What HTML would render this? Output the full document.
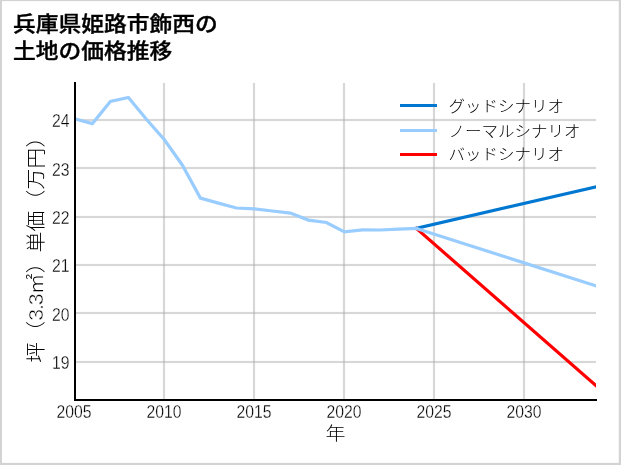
<!DOCTYPE html>
<html lang="ja">
<head>
<meta charset="utf-8">
<title>兵庫県姫路市飾西の土地の価格推移</title>
<style>
html,body{margin:0;padding:0;background:#fff;}
body{width:621px;height:465px;overflow:hidden;font-family:"Liberation Sans", "Noto Sans CJK JP", sans-serif;}
svg{display:block;position:absolute;left:0;top:0;}
text{font-family:"Liberation Sans", "Noto Sans CJK JP", sans-serif;fill:#000;}
.title{font-size:22.5px;font-weight:500;stroke:#000;stroke-width:0.4px;}
.tick{font-size:17.5px;font-weight:400;fill:#000;stroke:#fff;stroke-width:0.3px;}
.axl{font-size:20.8px;font-weight:300;}
.yl{letter-spacing:0.2px;}
.num{font-size:21.2px;letter-spacing:-1.0px;stroke:#fff;stroke-width:0.55px;}
.lg{font-size:16.5px;font-weight:300;}
</style>
</head>
<body>
<svg width="621" height="465" viewBox="0 0 621 465" role="img" aria-label="兵庫県姫路市飾西の土地の価格推移">
<defs><clipPath id="ax"><rect x="74" y="83" width="522" height="317"/></clipPath></defs>
<rect x="0" y="0" width="621" height="465" fill="#d3d3d3"/>
<rect x="2" y="1.15" width="616.8" height="461.7" fill="#ffffff"/>
<g fill="#b0b0b0" fill-opacity="0.5"><rect x="162.95" y="83" width="2.1" height="316"/><rect x="252.95" y="83" width="2.1" height="316"/><rect x="342.95" y="83" width="2.1" height="316"/><rect x="432.95" y="83" width="2.1" height="316"/><rect x="522.95" y="83" width="2.1" height="316"/><rect x="76" y="118.95" width="520" height="2.1"/><rect x="76" y="166.95" width="520" height="2.1"/><rect x="76" y="215.95" width="520" height="2.1"/><rect x="76" y="263.95" width="520" height="2.1"/><rect x="76" y="311.95" width="520" height="2.1"/><rect x="76" y="360.95" width="520" height="2.1"/></g>
<g clip-path="url(#ax)" fill="none" stroke-width="3.2" stroke-linejoin="miter" stroke-linecap="square">
<polyline points="416.4,228.4 598.4,387.70" stroke="#ff0000"/>
<polyline points="416.4,228.4 598.4,186.24" stroke="#0078d2"/>
<polyline points="416.4,228.4 598.4,286.67" stroke="#99ccff"/>
<polyline points="74.4,118.7 92.4,123.6 110.4,101.5 128.4,97.5 146.4,119.2 164.4,139.8 182.4,165.2 200.4,198.1 218.4,203.1 236.4,208.0 254.4,208.8 272.4,211.0 290.4,213.1 308.4,220.1 326.4,222.5 344.4,231.8 362.4,229.8 380.4,230.0 398.4,229.2 416.4,228.4" stroke="#99ccff"/>
</g>
<g fill="#000000">
<rect x="74" y="82" width="2" height="319"/>
<rect x="74" y="399" width="523" height="2"/>
</g>
<g class="title">
<text transform="translate(13.0,30.85) scale(1.012,0.93)">兵庫県姫路市飾西の</text>
<text transform="translate(13.0,58.45) scale(1.012,0.93)">土地の価格推移</text>
</g>
<g class="tick"><text transform="translate(74,418.1) scale(0.9,1)" text-anchor="middle">2005</text><text transform="translate(164,418.1) scale(0.9,1)" text-anchor="middle">2010</text><text transform="translate(254,418.1) scale(0.9,1)" text-anchor="middle">2015</text><text transform="translate(344,418.1) scale(0.9,1)" text-anchor="middle">2020</text><text transform="translate(434,418.1) scale(0.9,1)" text-anchor="middle">2025</text><text transform="translate(524,418.1) scale(0.9,1)" text-anchor="middle">2030</text><text transform="translate(69.4,126.6) scale(0.9,1)" text-anchor="end">24</text><text transform="translate(69.4,175.5) scale(0.9,1)" text-anchor="end">23</text><text transform="translate(69.4,223.6) scale(0.9,1)" text-anchor="end">22</text><text transform="translate(69.4,271.8) scale(0.9,1)" text-anchor="end">21</text><text transform="translate(69.4,320.5) scale(0.9,1)" text-anchor="end">20</text><text transform="translate(69.4,368.6) scale(0.9,1)" text-anchor="end">19</text></g>
<text class="axl" transform="translate(335.55,439.8) scale(0.96,0.88)" text-anchor="middle">年</text>
<text class="axl yl" transform="translate(43.4,362.75) rotate(-90) scale(1,0.95)">坪（<tspan class="num">3.3</tspan>㎡）単価（万円）</text>
<g><line x1="400" y1="105.45" x2="437" y2="105.45" stroke="#0078d2" stroke-width="3.15"/><text class="lg" transform="translate(448.6,111.7) scale(1,0.94)">グッドシナリオ</text><line x1="400" y1="130.5" x2="437" y2="130.5" stroke="#99ccff" stroke-width="3.15"/><text class="lg" transform="translate(448.6,136.8) scale(1,0.94)">ノーマルシナリオ</text><line x1="400" y1="154.5" x2="437" y2="154.5" stroke="#ff0000" stroke-width="3.15"/><text class="lg" transform="translate(448.6,160.0) scale(1,0.94)">バッドシナリオ</text></g>
</svg>
</body>
</html>
